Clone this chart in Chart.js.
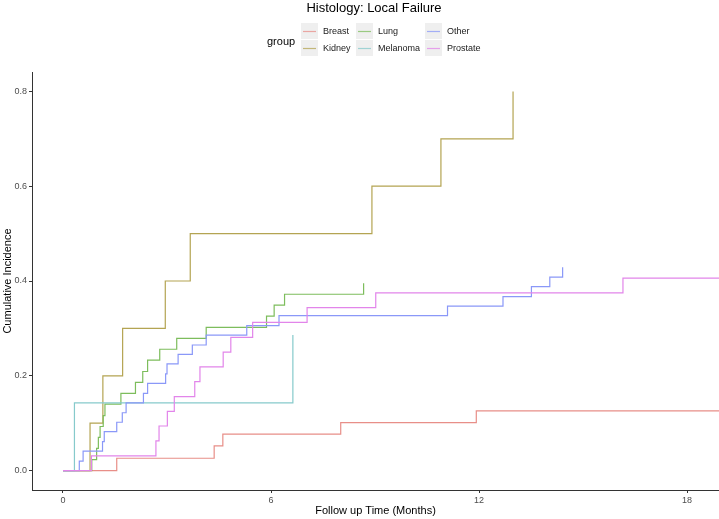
<!DOCTYPE html>
<html>
<head>
<meta charset="utf-8">
<script src="https://cdn.jsdelivr.net/npm/chart.js@4"></script>
<style>
  body { margin: 0; background: #fff; }
  #wrap { width: 719px; height: 519px; position: relative; }
</style>
</head>
<body>
<div id="wrap"><canvas id="myChart"></canvas></div>
<script>
// cumulative incidence of local failure by histology (step curves)
const groups = ["Breast", "Kidney", "Lung", "Melanoma", "Other", "Prostate"];
const colors = ["#E88E88", "#B4A452", "#7DBD5C", "#86CACB", "#8A98F8", "#E285EA"];

const breastTime = [0, 1.55, 4.36, 4.61, 8.01, 11.92, 18.92];
const breastCif  = [0, 0.026, 0.052, 0.077, 0.101, 0.126, 0.126];

const kidneyTime = [0, 0.78, 1.15, 1.72, 2.95, 3.67, 8.91, 10.9, 12.98];
const kidneyCif  = [0, 0.1, 0.2, 0.3, 0.4, 0.5, 0.6, 0.7, 0.8];

const lungTime = [0, 0.83, 0.97, 1.02, 1.07, 1.16, 1.21, 1.67, 2.09, 2.30, 2.44, 2.79, 3.28, 4.13, 5.87, 6.09, 6.39, 8.67];
const lungCif  = [0, 0.023, 0.047, 0.070, 0.093, 0.116, 0.140, 0.163, 0.186, 0.209, 0.233, 0.256, 0.279, 0.302, 0.326, 0.349, 0.372, 0.395];

const melanomaTime = [0, 0.33, 6.63];
const melanomaCif  = [0, 0.143, 0.286];

const otherTime = [0, 0.47, 0.58, 1.14, 1.19, 1.55, 1.71, 1.82, 2.32, 2.44, 2.96, 3.00, 3.32, 3.73, 4.13, 5.30, 6.23, 11.09, 12.69, 13.51, 14.04, 14.41];
const otherCif  = [0, 0.020, 0.041, 0.061, 0.082, 0.102, 0.122, 0.143, 0.163, 0.184, 0.204, 0.225, 0.245, 0.265, 0.286, 0.306, 0.327, 0.347, 0.367, 0.388, 0.408, 0.429];

const prostateTime = [0, 0.82, 2.68, 2.77, 3.01, 3.21, 3.80, 3.95, 4.62, 4.84, 5.47, 7.04, 9.02, 16.15, 18.92];
const prostateCif  = [0, 0.031, 0.0625, 0.094, 0.125, 0.156, 0.1875, 0.219, 0.25, 0.281, 0.3125, 0.344, 0.375, 0.406, 0.406];

const xTicks = [0, 6, 12, 18];
const yTicks = [0, 0.2, 0.4, 0.6, 0.8];

const times = [breastTime, kidneyTime, lungTime, melanomaTime, otherTime, prostateTime];
const cifs = [breastCif, kidneyCif, lungCif, melanomaCif, otherCif, prostateCif];

const fontFam = '"Liberation Sans", Arial, sans-serif';

function toPoints(t, v) {
  return t.map((x, i) => ({ x: x, y: v[i] }));
}

// ggplot style title + legend drawn above the panel
const ggLegend = {
  id: 'ggLegend',
  afterDraw(chart) {
    const ctx = chart.ctx;
    ctx.save();
    ctx.fillStyle = '#000';
    ctx.font = '13px ' + fontFam;
    ctx.textAlign = 'center';
    ctx.textBaseline = 'alphabetic';
    ctx.fillText('Histology: Local Failure', 374, 11.5);

    ctx.font = '11px ' + fontFam;
    ctx.textAlign = 'left';
    ctx.textBaseline = 'middle';
    ctx.fillText('group', 267, 42);

    const colX = [301, 356, 425];
    const rowY = [23, 40];
    groups.forEach((g, i) => {
      const x = colX[Math.floor(i / 2)];
      const y = rowY[i % 2];
      ctx.fillStyle = '#EFEFEF';
      ctx.fillRect(x, y, 17, 16);
      ctx.globalAlpha = 0.75;
      ctx.strokeStyle = colors[i];
      ctx.lineWidth = 1.2;
      ctx.beginPath();
      ctx.moveTo(x + 2, y + 8.5);
      ctx.lineTo(x + 15, y + 8.5);
      ctx.stroke();
      ctx.globalAlpha = 1;
      ctx.fillStyle = '#1a1a1a';
      ctx.font = '9px ' + fontFam;
      ctx.fillText(g, x + 22, y + 8.5);
    });
    ctx.restore();
  }
};

const ctx = document.getElementById('myChart').getContext('2d');
const chart = new Chart(ctx, {
  type: 'line',
  data: {
    datasets: groups.map((g, i) => ({
      label: g,
      data: toPoints(times[i], cifs[i]),
      borderColor: colors[i],
      borderWidth: 1.2,
      pointRadius: 0,
      stepped: true,
      fill: false,
      order: groups.length - i
    }))
  },
  options: {
    responsive: true,
    maintainAspectRatio: false,
    animation: false,
    layout: { padding: { top: 72, right: 0, left: 0, bottom: 0 } },
    plugins: {
      legend: { display: false },
      tooltip: { enabled: false }
    },
    scales: {
      x: {
        type: 'linear',
        min: -0.894,
        max: 18.92,
        grid: { display: true, drawOnChartArea: false, drawTicks: true, tickLength: 3, color: '#333' },
        border: { display: true, color: '#333', width: 1 },
        ticks: { color: '#4d4d4d', font: { size: 9, family: fontFam }, padding: 2, maxRotation: 0, autoSkip: false },
        afterBuildTicks: s => { s.ticks = xTicks.map(v => ({ value: v })); },
        afterFit: s => { s.height = 29; },
        title: { display: true, text: 'Follow up Time (Months)', color: '#000', font: { size: 11, family: fontFam }, padding: { top: 0, bottom: 1.4 } }
      },
      y: {
        type: 'linear',
        min: -0.041,
        max: 0.841,
        grid: { display: true, drawOnChartArea: false, drawTicks: true, tickLength: 3, color: '#333' },
        border: { display: true, color: '#333', width: 1 },
        ticks: { color: '#4d4d4d', font: { size: 9, family: fontFam }, padding: 2, callback: v => v.toFixed(1) },
        afterBuildTicks: s => { s.ticks = yTicks.map(v => ({ value: v })); },
        afterFit: s => { s.width = 32; },
        title: { display: true, text: 'Cumulative Incidence', color: '#000', font: { size: 11, family: fontFam }, padding: { top: 1.4, bottom: 0 } }
      }
    }
  },
  plugins: [ggLegend]
});
</script>
</body>
</html>
